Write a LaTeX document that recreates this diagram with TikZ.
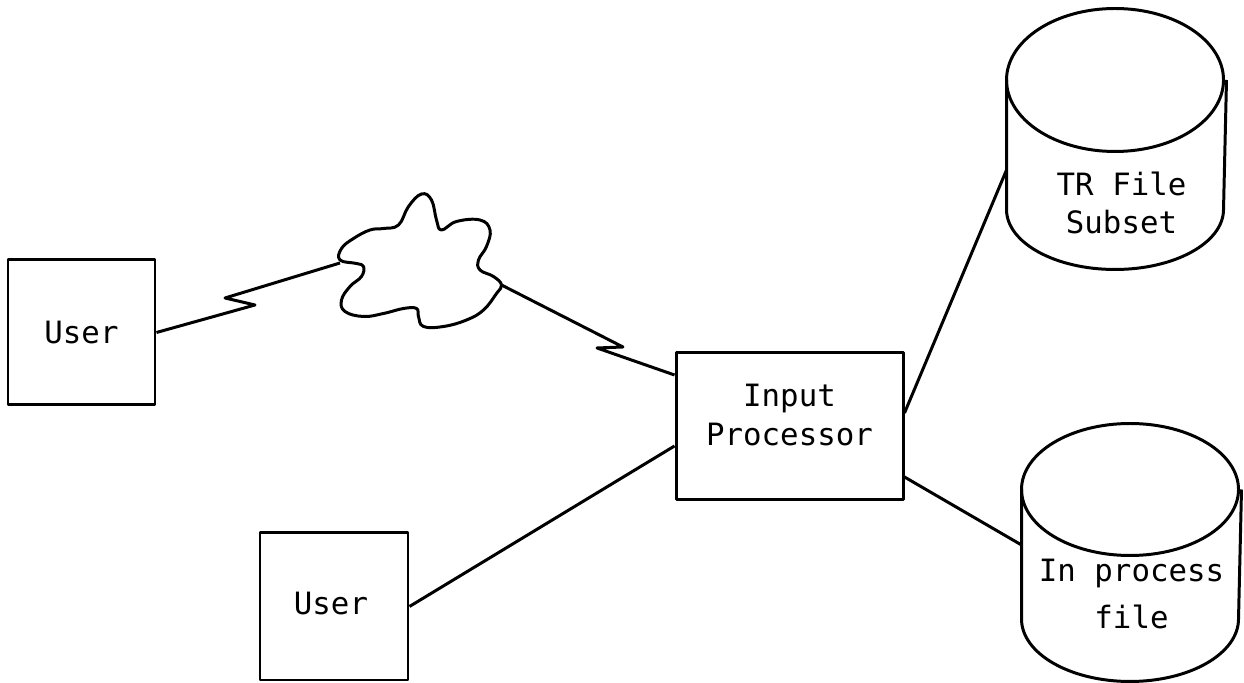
\documentclass[tikz,border=0pt]{standalone}
\usepackage{fontspec}
\setmonofont{DejaVu Sans Mono}
\usetikzlibrary{calc}

% disk store outline round a named node: #1 node, #2 x radius, #3 top y radius, #4 bottom y radius
\newcommand\diskstore[4]{%
  \draw ([yshift=-#3]#1.north west) -- ([yshift=#4]#1.south west)
    arc[start angle=180,end angle=360,x radius=#2,y radius=#4]
    -- ([yshift=-#3]#1.north east);
  \draw ([yshift=-#3]#1.north west)
    arc[start angle=180,delta angle=360,x radius=#2,y radius=#3];
}

\begin{document}
\begin{tikzpicture}[
  box/.style={rectangle,draw=black,inner sep=0pt},
  store/.style={rectangle,inner sep=0pt,minimum width=4.34cm,minimum height=5.16cm},
  lbl/.style={font=\fontsize{17.5}{22}\selectfont\ttfamily,align=center,inner sep=1pt},
  every path/.style={line width=1.7pt,line join=round}
]
  \useasboundingbox (0,0) rectangle (24.88,13.66);

  % --- users and the input processor ---
  \node[box,minimum width=2.94cm,minimum height=2.90cm] (u1) at (1.63,7.01) {};
  \node[box,minimum width=2.96cm,minimum height=2.94cm] (u2) at (6.68,1.53) {};
  \node[box,minimum width=4.54cm,minimum height=2.94cm] (io) at (15.79,5.13) {};
  \node[lbl] at (u1) {User};
  \node[lbl] at ([xshift=-0.06cm,yshift=0.05cm]u2) {User};
  \node[lbl] at ([yshift=0.23cm]io) {Input\\Processor};

  % --- files (disk stores) ---
  \node[store] (tr)  at (22.33,10.88) {};
  \node[store,minimum height=5.10cm] (ipf) at (22.63,2.61) {};
  \diskstore{tr}{2.17cm}{1.43cm}{1.2cm}
  \diskstore{ipf}{2.17cm}{1.32cm}{1.25cm}
  \node[lbl] at ([xshift=0.1cm,yshift=-1.28cm]tr) {TR File\\Subset};
  \node[lbl] at ([yshift=-0.83cm]ipf) {In process\\[0.18cm]file};

  % --- network cloud ---
  \draw plot[smooth cycle,tension=0.7] coordinates {
    (6.80,8.46) (6.83,8.69) (7.07,8.89) (7.40,9.06) (7.67,9.09) (7.97,9.16)
    (8.17,9.53) (8.43,9.78) (8.63,9.66) (8.73,9.26) (8.83,9.06) (9.13,9.23)
    (9.60,9.26) (9.80,9.06) (9.73,8.73) (9.57,8.46) (9.60,8.26) (9.87,8.13)
    (10.03,7.96) (9.93,7.79) (9.67,7.46) (9.33,7.26) (8.87,7.13) (8.47,7.13)
    (8.37,7.33) (8.33,7.49) (8.07,7.49) (7.67,7.39) (7.27,7.33) (6.90,7.43)
    (6.83,7.66) (7.00,7.93) (7.23,8.13) (7.27,8.33) (7.13,8.39)};
  \coordinate (netw) at (6.80,8.40);
  \coordinate (nete) at (10.03,7.96);

  % --- dial-up links through the network ---
  \draw (u1.east) -- (5.10,7.56) -- (4.50,7.70) -- (netw);
  \draw (nete) -- (12.46,6.72) -- (11.94,6.70) -- ([yshift=1.03cm]io.west);

  % --- direct links ---
  \draw (u2.east) -- ([yshift=-0.39cm]io.west);
  \draw ([yshift=0.27cm]io.east) -- ([yshift=-0.62cm]tr.west);
  \draw ([yshift=-1.01cm]io.east) -- ([yshift=0.15cm]ipf.west);
\end{tikzpicture}
\end{document}
